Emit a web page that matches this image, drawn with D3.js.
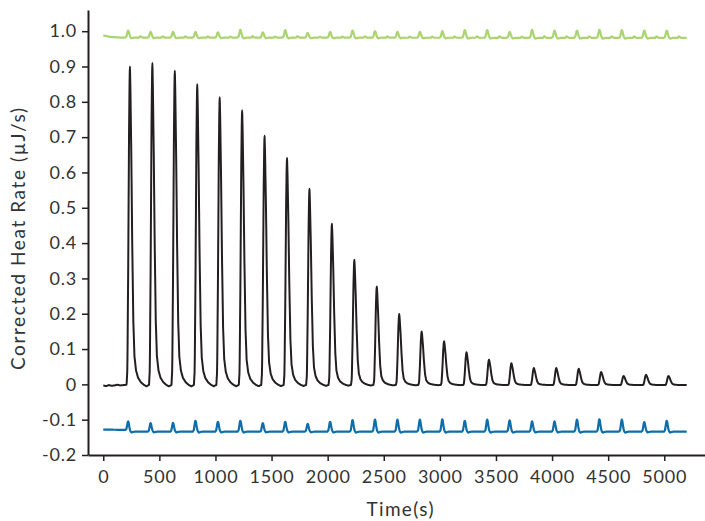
<!DOCTYPE html>
<html>
<head>
<meta charset="utf-8">
<script src="https://cdn.jsdelivr.net/npm/d3@7"></script>
<style>
  body { margin: 0; background: #fff; }
  text { font-family: Lato, "Open Sans", sans-serif; fill: #333; }
</style>
</head>
<body>
<div id="chart"></div>
<script>
// injection start times (s)
var injections = [220, 420, 620, 820, 1020, 1220, 1420, 1620, 1820, 2020, 2220, 2420, 2620,
                  2820, 3020, 3220, 3420, 3620, 3820, 4020, 4220, 4420, 4620, 4820, 5020];

// peak tops (µJ/s)
var blackPeaks = [0.900, 0.910, 0.888, 0.850, 0.813, 0.776, 0.704, 0.641, 0.554, 0.455, 0.353, 0.277, 0.199,
                  0.150, 0.122, 0.091, 0.070, 0.060, 0.046, 0.046, 0.044, 0.035, 0.024, 0.027, 0.024];
var greenPeaks = [1.002, 0.998, 0.998, 0.998, 0.997, 1.004, 0.997, 1.003, 0.995, 0.998, 1.002, 1.000, 0.998,
                  0.998, 1.000, 1.003, 1.003, 0.998, 1.004, 1.002, 1.002, 1.004, 1.003, 1.002, 1.002];
var bluePeaks = [-0.105, -0.110, -0.109, -0.103, -0.106, -0.103, -0.110, -0.106, -0.112, -0.106, -0.101, -0.100, -0.100,
                 -0.100, -0.099, -0.103, -0.100, -0.102, -0.105, -0.105, -0.100, -0.099, -0.100, -0.107, -0.103];

// baselines [time, value]
var blackBase = [[0, -0.003], [25, -0.005], [50, -0.002], [75, -0.004], [100, -0.003], [125, -0.001],
                 [150, -0.003], [180, -0.002], [210, -0.001], [5200, -0.002]];
var greenBase = [[0, 0.988], [60, 0.984], [150, 0.982], [5200, 0.981]];
var blueBase = [[0, -0.128], [200, -0.129], [240, -0.134], [5200, -0.134]];

// peak shapes: [seconds after injection, fraction of peak]
var blackShape = [[-12, 0], [-5, 0.05], [2, 0.35], [10, 0.8], [15, 0.97], [18, 1], [22, 0.93], [30, 0.72],
                  [38, 0.45], [48, 0.2], [58, 0.09], [72, 0.045], [90, 0.022], [115, 0.008], [140, 0],
                  [165, -0.005], [190, 0]];
var greenShape = [[-24, 0], [-14, 0.12], [-6, 0.6], [-1, 0.96], [2, 1], [6, 0.9], [12, 0.55], [18, 0.2],
                  [24, 0.02], [30, -0.1], [42, -0.06], [55, 0], [100, 0], [110, 0.2], [120, 0.1],
                  [130, 0], [190, 0]];
var blueShape = [[-24, 0], [-14, 0.12], [-6, 0.62], [-1, 0.97], [2, 1], [6, 0.9], [12, 0.5], [18, 0.18],
                 [24, 0.02], [32, -0.08], [45, -0.03], [60, 0], [190, 0]];

var xTicks = [0, 500, 1000, 1500, 2000, 2500, 3000, 3500, 4000, 4500, 5000];
var yTicks = [-0.2, -0.1, 0, 0.1, 0.2, 0.3, 0.4, 0.5, 0.6, 0.7, 0.8, 0.9, 1.0];

function init() {
    var w = 705;
    var h = 521;

    var x = d3.scaleLinear().domain([-136, 5363]).range([88, 705]);
    var y = d3.scaleLinear().domain([-0.2, 1.06]).range([455, 10]);

    var svg = d3.select("#chart")
        .append("svg")
        .attr("width", w)
        .attr("height", h);

    function lerp(pairs) {
        return d3.scaleLinear()
            .domain(pairs.map(function (d) { return d[0]; }))
            .range(pairs.map(function (d) { return d[1]; }))
            .clamp(true);
    }

    // baseline plus each injection's peak, scaled by the height
    function buildSeries(peaks, base, shape) {
        var b = lerp(base);
        var s = lerp(shape);
        var peakOffset = shape.reduce(function (a, d) { return d[1] > a[1] ? d : a; })[0];
        var pts = [];
        for (var t = 0; t <= 5200; t += 2) {
            var v = b(t);
            for (var i = 0; i < injections.length; i++) {
                var dt = t - injections[i];
                if (dt < -30 || dt > 200) continue;
                var amp = peaks[i] - b(injections[i] + peakOffset);
                v += amp * s(dt);
            }
            pts.push([t, v]);
        }
        return pts;
    }

    var line = d3.line()
        .curve(d3.curveMonotoneX)
        .x(function (d) { return x(d[0]); })
        .y(function (d) { return y(d[1]); });

    var series = [
        { pts: buildSeries(greenPeaks, greenBase, greenShape), color: "#aad46f", width: 2.2 },
        { pts: buildSeries(bluePeaks, blueBase, blueShape), color: "#0d6eab", width: 2.2 },
        { pts: buildSeries(blackPeaks, blackBase, blackShape), color: "#231f20", width: 2 }
    ];

    svg.selectAll("path.series")
        .data(series)
        .enter()
        .append("path")
        .attr("class", "series")
        .attr("d", function (d) { return line(d.pts); })
        .attr("fill", "none")
        .attr("stroke", function (d) { return d.color; })
        .attr("stroke-width", function (d) { return d.width; })
        .attr("stroke-linejoin", "round");

    var xAxis = svg.append("g")
        .attr("transform", "translate(0,455)")
        .call(d3.axisBottom(x).tickValues(xTicks).tickSize(6).tickSizeOuter(0).tickPadding(9)
            .tickFormat(function (d) { return String(d); }));

    var yAxis = svg.append("g")
        .attr("transform", "translate(88,0)")
        .call(d3.axisLeft(y).tickValues(yTicks).tickSize(6).tickSizeOuter(0).tickPadding(5)
            .tickFormat(function (d) {
                if (Math.abs(d) < 1e-9) return "0";
                return d.toFixed(1);
            }));

    [xAxis, yAxis].forEach(function (g) {
        g.select(".domain").attr("stroke", "#231f20").attr("stroke-width", 2);
        g.selectAll(".tick line").attr("stroke", "#231f20").attr("stroke-width", 1.5);
        g.selectAll(".tick text")
            .style("font-family", "Lato, 'Open Sans', sans-serif")
            .style("font-size", "18px")
            .style("letter-spacing", "0.8px")
            .attr("fill", "#333");
    });

    svg.append("text")
        .attr("x", 400)
        .attr("y", 516)
        .attr("text-anchor", "middle")
        .attr("textLength", 67)
        .attr("lengthAdjust", "spacing")
        .style("font-size", "19px")
        .text("Time(s)");

    svg.append("text")
        .attr("transform", "translate(25,239) rotate(-90)")
        .attr("text-anchor", "middle")
        .attr("textLength", 262)
        .attr("lengthAdjust", "spacing")
        .style("font-size", "19px")
        .text("Corrected Heat Rate (\u00b5J/s)");
}

window.onload = init;
</script>
</body>
</html>
